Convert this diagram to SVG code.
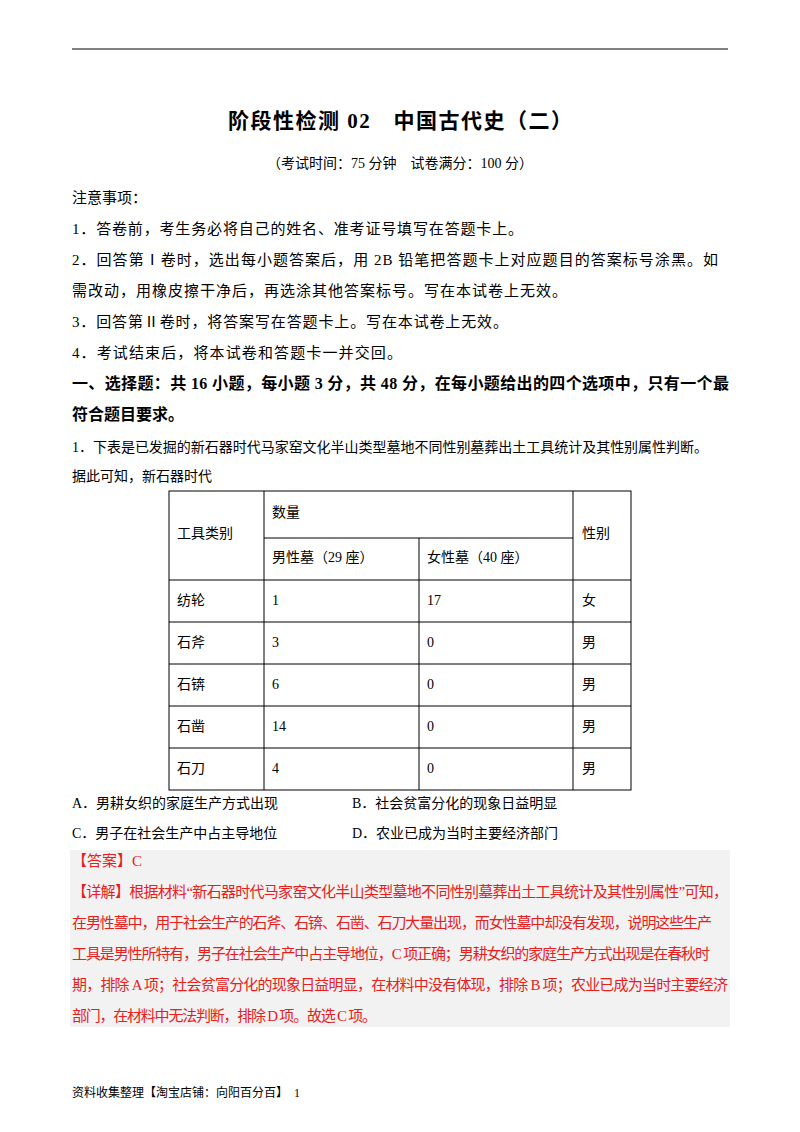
<svg xmlns="http://www.w3.org/2000/svg" width="800" height="1132" viewBox="0 0 800 1132">
<style>
text{font-family:"Liberation Serif","Noto Sans CJK SC",serif;fill:#000;font-size:15px}
.b{font-weight:bold}
.r{fill:#e8201c}
.s{font-size:14px}
.t{font-size:21px}
.m{font-size:16px}
.f{font-size:12px}
.c{text-anchor:middle}
line{stroke:#000;stroke-width:1}
</style>
<rect width="800" height="1132" fill="#fff"/>
<line x1="72" y1="49" x2="728" y2="49" stroke-width="1.5"/>
<text x="228" y="128" class="b t" textLength="344">阶段性检测 02　中国古代史（二）</text>
<text x="400" y="168" class="c s">（考试时间：75 分钟　试卷满分：100 分）</text>
<text x="72" y="203">注意事项：</text>
<text x="72" y="234" textLength="451">1．答卷前，考生务必将自己的姓名、准考证号填写在答题卡上。</text>
<text x="72" y="265" textLength="646">2．回答第Ⅰ卷时，选出每小题答案后，用 2B 铅笔把答题卡上对应题目的答案标号涂黑。如</text>
<text x="72" y="296" textLength="495">需改动，用橡皮擦干净后，再选涂其他答案标号。写在本试卷上无效。</text>
<text x="72" y="327" textLength="436">3．回答第Ⅱ卷时，将答案写在答题卡上。写在本试卷上无效。</text>
<text x="72" y="358" textLength="330">4．考试结束后，将本试卷和答题卡一并交回。</text>
<text x="72" y="389" class="b m" textLength="657">一、选择题：共 16 小题，每小题 3 分，共 48 分，在每小题给出的四个选项中，只有一个最</text>
<text x="72" y="420" class="b m">符合题目要求。</text>
<text x="72" y="452" class="s" textLength="636">1．下表是已发掘的新石器时代马家窑文化半山类型墓地不同性别墓葬出土工具统计及其性别属性判断。</text>
<text x="72" y="481" class="s">据此可知，新石器时代</text>
<g id="table">
<rect x="169" y="491" width="462" height="299" fill="none" stroke="#000"/>
<line x1="264" y1="491" x2="264" y2="790"/>
<line x1="419" y1="538" x2="419" y2="790"/>
<line x1="573" y1="491" x2="573" y2="790"/>
<line x1="264" y1="538" x2="573" y2="538"/>
<line x1="169" y1="580" x2="631" y2="580"/>
<line x1="169" y1="622" x2="631" y2="622"/>
<line x1="169" y1="664" x2="631" y2="664"/>
<line x1="169" y1="706" x2="631" y2="706"/>
<line x1="169" y1="748" x2="631" y2="748"/>
<text x="177" y="538" class="s">工具类别</text>
<text x="272" y="517" class="s">数量</text>
<text x="582" y="538" class="s">性别</text>
<text x="272" y="562" class="s">男性墓（29 座）</text>
<text x="427" y="562" class="s">女性墓（40 座）</text>
<text x="177" y="605" class="s">纺轮</text><text x="272" y="605" class="s">1</text><text x="427" y="605" class="s">17</text><text x="582" y="605" class="s">女</text>
<text x="177" y="647" class="s">石斧</text><text x="272" y="647" class="s">3</text><text x="427" y="647" class="s">0</text><text x="582" y="647" class="s">男</text>
<text x="177" y="689" class="s">石锛</text><text x="272" y="689" class="s">6</text><text x="427" y="689" class="s">0</text><text x="582" y="689" class="s">男</text>
<text x="177" y="731" class="s">石凿</text><text x="272" y="731" class="s">14</text><text x="427" y="731" class="s">0</text><text x="582" y="731" class="s">男</text>
<text x="177" y="773" class="s">石刀</text><text x="272" y="773" class="s">4</text><text x="427" y="773" class="s">0</text><text x="582" y="773" class="s">男</text>
</g>
<text x="72" y="808" class="s">A．男耕女织的家庭生产方式出现</text>
<text x="352" y="808" class="s">B．社会贫富分化的现象日益明显</text>
<text x="72" y="838" class="s">C．男子在社会生产中占主导地位</text>
<text x="352" y="838" class="s">D．农业已成为当时主要经济部门</text>
<rect x="70" y="850" width="660" height="177" fill="#f2f2f2"/>
<text x="72" y="866" class="r">【答案】C</text>
<text x="72" y="897" class="r" textLength="656">【详解】根据材料“新石器时代马家窑文化半山类型墓地不同性别墓葬出土工具统计及其性别属性”可知，</text>
<text x="72" y="928" class="r" textLength="640">在男性墓中，用于社会生产的石斧、石锛、石凿、石刀大量出现，而女性墓中却没有发现，说明这些生产</text>
<text x="72" y="959" class="r" textLength="638">工具是男性所特有，男子在社会生产中占主导地位，C 项正确；男耕女织的家庭生产方式出现是在春秋时</text>
<text x="72" y="990" class="r" textLength="656">期，排除 A 项；社会贫富分化的现象日益明显，在材料中没有体现，排除 B 项；农业已成为当时主要经济</text>
<text x="72" y="1021" class="r" textLength="305">部门，在材料中无法判断，排除 D 项。故选 C 项。</text>
<text x="72" y="1097" class="f">资料收集整理【淘宝店铺：向阳百分百】　1</text>
</svg>
